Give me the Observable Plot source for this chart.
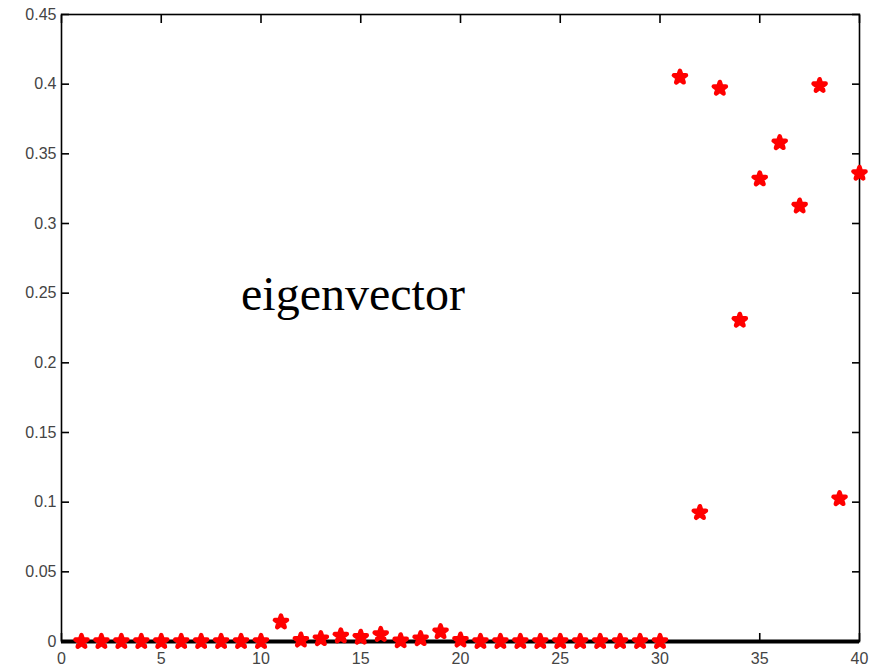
<!DOCTYPE html>
<html>
<head>
<meta charset="utf-8">
<script src="https://cdn.jsdelivr.net/npm/d3@7"></script>
<script src="https://cdn.jsdelivr.net/npm/@observablehq/plot@0.6"></script>
<style>
  html, body { margin: 0; padding: 0; background: #fff; }
  #chart { width: 879px; height: 668px; }
</style>
</head>
<body>
<div id="chart"></div>
<script>
const indices = d3.range(1, 41);
const values = [
  0, 0, 0, 0, 0, 0, 0, 0, 0, 0,
  0.014, 0.001, 0.002, 0.004, 0.003, 0.005, 0.0005, 0.002, 0.007, 0.001,
  0, 0, 0, 0, 0, 0, 0, 0, 0, 0,
  0.405, 0.0925, 0.397, 0.2305, 0.332, 0.358, 0.3125, 0.399, 0.1025, 0.336
];
const xTicks = [0, 5, 10, 15, 20, 25, 30, 35, 40];
const xTickLabels = ["0", "5", "10", "15", "20", "25", "30", "35", "40"];
const yTicks = [0, 0.05, 0.1, 0.15, 0.2, 0.25, 0.3, 0.35, 0.4, 0.45];
const yTickLabels = ["0", "0.05", "0.1", "0.15", "0.2", "0.25", "0.3", "0.35", "0.4", "0.45"];
const annotation = [{x: 9.0, y: 0.238, text: "eigenvector"}];

const points = indices.map((x, i) => ({x, y: values[i]}));
const fmtX = d => xTickLabels[xTicks.indexOf(d)];
const fmtY = d => yTickLabels[yTicks.findIndex(t => Math.abs(t - d) < 1e-9)];

const chart = Plot.plot({
  width: 879,
  height: 668,
  marginLeft: 61,
  marginRight: 20,
  marginTop: 14,
  marginBottom: 27,
  style: {fontFamily: "Liberation Sans, Arial, sans-serif", fontSize: "16px", color: "#333", background: "#fff"},
  x: {domain: [0, 40]},
  y: {domain: [0, 0.45]},
  marks: [
    Plot.ruleY([0], {stroke: "black", strokeWidth: 4}),
    Plot.frame({stroke: "black", strokeWidth: 1.6}),
    Plot.axisX({anchor: "bottom", ticks: xTicks, tickFormat: fmtX, tickSize: -8, tickPadding: 19, stroke: "black", strokeWidth: 1.6, fill: "#444", label: null}),
    Plot.axisX({anchor: "top", ticks: xTicks, tickSize: -8, stroke: "black", strokeWidth: 1.6, fill: "none", label: null}),
    Plot.axisY({anchor: "left", ticks: yTicks, tickFormat: fmtY, tickSize: -8, tickPadding: 13, stroke: "black", strokeWidth: 1.6, fill: "#444", label: null}),
    Plot.axisY({anchor: "right", ticks: yTicks, tickSize: -8, stroke: "black", strokeWidth: 1.6, fill: "none", label: null}),
    Plot.dot(points, {x: "x", y: "y", symbol: "star", r: 3.8, fill: "red", stroke: "red", strokeWidth: 4.5, strokeLinejoin: "round"}),
    Plot.text(annotation, {x: "x", y: "y", text: "text", textAnchor: "start", lineAnchor: "bottom", fontSize: 48, fontFamily: "Liberation Serif, Times New Roman, serif", fill: "black"})
  ]
});
document.getElementById("chart").appendChild(chart);
</script>
</body>
</html>
